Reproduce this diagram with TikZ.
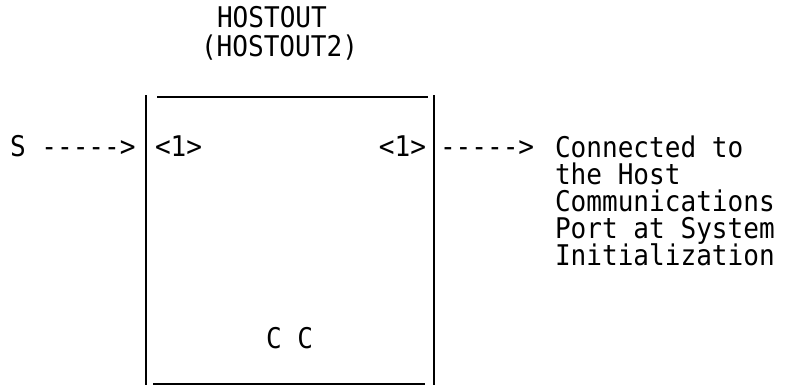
\documentclass[tikz,border=0pt]{standalone}
\usepackage{fontspec}
\newfontfamily\typew[FakeStretch=0.915]{DejaVu Sans Mono}
\begin{document}
\begin{tikzpicture}[x=1pt,y=-1pt,
  tt/.style={font=\typew\fontsize{28.5}{27}\selectfont, inner sep=0pt, outer sep=0pt, anchor=base west},
  rule/.style={line width=1.8pt, black}]
\useasboundingbox (0,0) rectangle (787,386);
% titles
\node[tt] (title) at (217,27) {HOSTOUT};
\node[tt] (title2) at (201,56) {(HOSTOUT2)};
% box frame
\coordinate (lt) at (146,95);  \coordinate (lb) at (146,385);
\coordinate (rt) at (434,95);  \coordinate (rb) at (434,385);
\coordinate (tl) at (157,97);  \coordinate (tr) at (428,97);
\coordinate (bl) at (153,384); \coordinate (br) at (425,384);
\draw[rule] (lt) -- (lb);
\draw[rule] (rt) -- (rb);
\draw[rule] (tl) -- (tr);
\draw[rule] (bl) -- (br);
% input side
\node[tt] (input) at (10,156) {S ----->};
\node[tt] (inport) at (155,156) {<1>};
% output side
\node[tt, anchor=base east] (outport) at (426,156) {<1>};
\node[tt] (outarrow) at (440,156) {----->};
\node[tt] (dest1) at (555,157) {Connected to};
\node[tt] (dest2) at (555,184) {the Host};
\node[tt] (dest3) at (555,211) {Communications};
\node[tt] (dest4) at (555,238) {Port at System};
\node[tt] (dest5) at (555,265) {Initialization};
% bottom label
\node[tt] (cc) at (266,348) {C C};
\end{tikzpicture}
\end{document}
